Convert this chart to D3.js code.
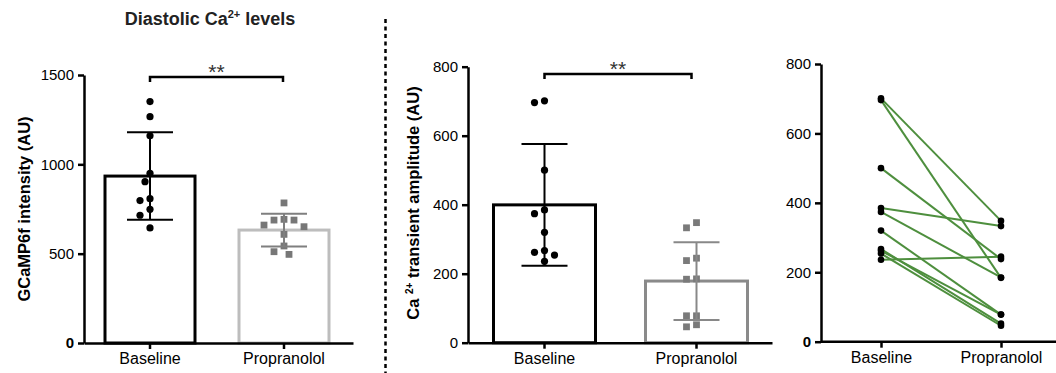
<!DOCTYPE html>
<html>
<head>
<meta charset="utf-8">
<script src="https://cdn.jsdelivr.net/npm/d3@7"></script>
<style>
  body { margin: 0; background: #fff; }
  svg { display: block; font-family: "Liberation Sans", Arial, sans-serif; }
  .axis path, .axis line { stroke: #000; stroke-width: 2.5; }
  .axis text { font-size: 15px; fill: #000; font-family: "Liberation Sans", Arial, sans-serif; }
  .xaxis text { font-size: 16px; }
</style>
</head>
<body>
<svg id="svg" width="1056" height="373"></svg>
<script>
  // values
  const categories = ["Baseline", "Propranolol"];
  const diastolicBaseline = [1351, 1267, 1160, 950, 903, 808, 797, 748, 715, 644];
  const diastolicPropranolol = [784, 688, 688, 692, 660, 651, 608, 543, 511, 496];
  // amplitude, same cell order in both arrays (pairs for the right panel)
  const ampBaseline = [701, 696, 500, 385, 374, 320, 267, 262, 254, 236];
  const ampPropranolol = [348, 184, 238, 333, 185, 78, 52, 78, 46, 245];
  const diastolicTicks = [0, 500, 1000, 1500];
  const ampTicks = [0, 200, 400, 600, 800];

  const svg = d3.select("#svg");
  const fmt = d3.format("d");

  // band scale that puts category centres at c1, c2 between x0 and x1
  function makeBand(x0, x1, c1, c2, bw) {
    const step = c2 - c1;
    const W = x1 - x0;
    const pI = 1 - bw / step;
    const pO = (W / step - 2 + pI) / 2;
    const align = (c1 - bw / 2 - x0) / (W - step * (2 - pI));
    return d3.scaleBand().domain(categories).range([x0, x1])
      .paddingInner(pI).paddingOuter(pO).align(align);
  }

  // simple greedy spread of points that overlap
  function spread(values, y, step, minDist) {
    const order = d3.range(values.length).sort((a, b) => values[b] - values[a]);
    const placed = [];
    const offs = new Array(values.length).fill(0);
    const cands = [0];
    for (let k = 1; k < 8; k++) { cands.push(-k * step, k * step); }
    order.forEach(function(i) {
      const py = y(values[i]);
      for (const c of cands) {
        const ok = placed.every(p => Math.hypot(p.x - c, p.y - py) >= minDist);
        if (ok) { offs[i] = c; placed.push({x: c, y: py}); break; }
      }
    });
    return offs;
  }

  function drawAxes(g, x, y, ticks, boldZero) {
    const ya = g.append("g").attr("class", "axis")
      .attr("transform", `translate(${x.range()[0]},0)`)
      .call(d3.axisLeft(y).tickValues(ticks).tickFormat(fmt).tickSize(6).tickSizeOuter(0).tickPadding(4));
    if (boldZero) ya.selectAll(".tick text").filter(d => d === 0).attr("font-weight", "bold");
    g.append("g").attr("class", "axis xaxis")
      .attr("transform", `translate(0,${y.range()[0]})`)
      .call(d3.axisBottom(x).tickSize(6).tickSizeOuter(0).tickPadding(4));
  }

  function barPanel(opts) {
    const g = svg.append("g");
    const x = opts.x, y = opts.y;
    const groups = [
      {cat: categories[0], vals: opts.base, bar: "#000", err: "#000", dot: "#000", shape: "circle"},
      {cat: categories[1], vals: opts.prop, bar: opts.propBar, err: opts.propErr, dot: opts.propDot, shape: "square"}
    ];
    groups.forEach(function(gr) {
      gr.mean = d3.mean(gr.vals);
      gr.sd = d3.deviation(gr.vals);
      const cx = x(gr.cat) + x.bandwidth() / 2;
      g.append("rect")
        .attr("x", x(gr.cat)).attr("width", x.bandwidth())
        .attr("y", y(gr.mean)).attr("height", y(0) - y(gr.mean))
        .attr("fill", "#fff").attr("stroke", gr.bar).attr("stroke-width", 3);
      const offs = spread(gr.vals, y, 5, 8.5);
      if (gr.shape === "circle") {
        g.selectAll(null).data(gr.vals).enter().append("circle")
          .attr("cx", (d, i) => cx + offs[i]).attr("cy", d => y(d))
          .attr("r", 3.6).attr("fill", gr.dot);
      } else {
        g.selectAll(null).data(gr.vals).enter().append("rect")
          .attr("x", (d, i) => cx + offs[i] - 3.4).attr("y", d => y(d) - 3.4)
          .attr("width", 6.8).attr("height", 6.8).attr("fill", gr.dot);
      }
      // error bar (mean ± SD)
      const eb = g.append("g").attr("stroke", gr.err).attr("stroke-width", 2).attr("fill", "none");
      eb.append("line").attr("x1", cx).attr("x2", cx)
        .attr("y1", y(gr.mean + gr.sd)).attr("y2", y(gr.mean - gr.sd));
      [gr.mean + gr.sd, gr.mean - gr.sd].forEach(function(v) {
        eb.append("line").attr("x1", cx - 23).attr("x2", cx + 23)
          .attr("y1", y(v)).attr("y2", y(v));
      });
    });
    drawAxes(g, x, y, opts.ticks, opts.boldZero);

    // significance bracket
    const c1 = x(categories[0]) + x.bandwidth() / 2;
    const c2 = x(categories[1]) + x.bandwidth() / 2 + opts.bracketShift;
    g.append("path")
      .attr("d", `M${c1},${opts.bracketY + 5}V${opts.bracketY}H${c2}V${opts.bracketY + 5}`)
      .attr("fill", "none").attr("stroke", "#000").attr("stroke-width", 2.5);
    g.append("text").attr("x", (c1 + c2) / 2).attr("y", opts.bracketY + 2)
      .attr("text-anchor", "middle").attr("font-size", 21).attr("fill", "#333")
      .text("**");
    return g;
  }

  // ---- panel 1: diastolic Ca2+ levels
  const x1 = makeBand(84, 353, 150, 284, 90);
  const y1 = d3.scaleLinear().domain([0, 1500]).range([343, 75]);
  barPanel({x: x1, y: y1, base: diastolicBaseline, prop: diastolicPropranolol,
    propBar: "#bdbdbd", propErr: "#7f7f7f", propDot: "#777", ticks: diastolicTicks,
    boldZero: true, bracketY: 77, bracketShift: -1});

  const title = svg.append("text").attr("x", 210).attr("y", 25)
    .attr("text-anchor", "middle").attr("font-size", 18).attr("font-weight", "bold")
    .attr("fill", "#222");
  title.append("tspan").text("Diastolic Ca");
  title.append("tspan").attr("font-size", 11).attr("dy", -7).text("2+");
  title.append("tspan").attr("dy", 7).text(" levels");

  svg.append("text").attr("transform", "translate(30,209) rotate(-90)")
    .attr("text-anchor", "middle").attr("font-size", 16.5).attr("font-weight", "bold")
    .text("GCaMP6f intensity (AU)");

  // dotted divider
  svg.append("line").attr("x1", 385.5).attr("x2", 385.5).attr("y1", 19).attr("y2", 373)
    .attr("stroke", "#000").attr("stroke-width", 2.5).attr("stroke-dasharray", "4,3.5");

  // ---- panel 2: transient amplitude
  const x2 = makeBand(468, 772, 544.5, 696.5, 102);
  const y2 = d3.scaleLinear().domain([0, 800]).range([342.7, 66.7]);
  barPanel({x: x2, y: y2, base: ampBaseline, prop: ampPropranolol,
    propBar: "#8a8a8a", propErr: "#888", propDot: "#7a7a7a", ticks: ampTicks,
    boldZero: false, bracketY: 74, bracketShift: -5});

  const ylab2 = svg.append("text").attr("transform", "translate(419,203) rotate(-90)")
    .attr("text-anchor", "middle").attr("font-size", 16.5).attr("font-weight", "bold");
  ylab2.append("tspan").text("Ca ");
  ylab2.append("tspan").attr("font-size", 10).attr("dy", -6).text("2+");
  ylab2.append("tspan").attr("dy", 6).text(" transient amplitude (AU)");

  // ---- panel 3: paired before/after
  const x3 = d3.scalePoint().domain(categories).range([881, 1001]);
  const y3 = d3.scaleLinear().domain([0, 800]).range([341.7, 64]);
  const g3 = svg.append("g");
  const pairs = ampBaseline.map((d, i) => [d, ampPropranolol[i]]);
  g3.selectAll(".pair").data(pairs).enter().append("line")
    .attr("class", "pair")
    .attr("x1", x3(categories[0])).attr("x2", x3(categories[1]))
    .attr("y1", d => y3(d[0])).attr("y2", d => y3(d[1]))
    .attr("stroke", "#4e8f3e").attr("stroke-width", 2);
  g3.selectAll(".pb").data(ampBaseline).enter().append("circle")
    .attr("cx", x3(categories[0])).attr("cy", d => y3(d)).attr("r", 3.3).attr("fill", "#000");
  g3.selectAll(".pp").data(ampPropranolol).enter().append("circle")
    .attr("cx", x3(categories[1])).attr("cy", d => y3(d)).attr("r", 3.3).attr("fill", "#000");

  const ya3 = g3.append("g").attr("class", "axis").attr("transform", "translate(821,0)")
    .call(d3.axisLeft(y3).tickValues(ampTicks).tickFormat(fmt).tickSize(6).tickSizeOuter(0).tickPadding(4));
  ya3.selectAll(".tick text").filter(d => d === 0).attr("font-weight", "bold");
  const xa3 = g3.append("g").attr("class", "axis xaxis").attr("transform", "translate(0,341.7)")
    .call(d3.axisBottom(x3).tickSize(6).tickSizeOuter(0).tickPadding(4));
  // x axis line of the paired panel runs past the scale range
  xa3.select(".domain").attr("d", "M821,0H1056");
</script>
</body>
</html>
